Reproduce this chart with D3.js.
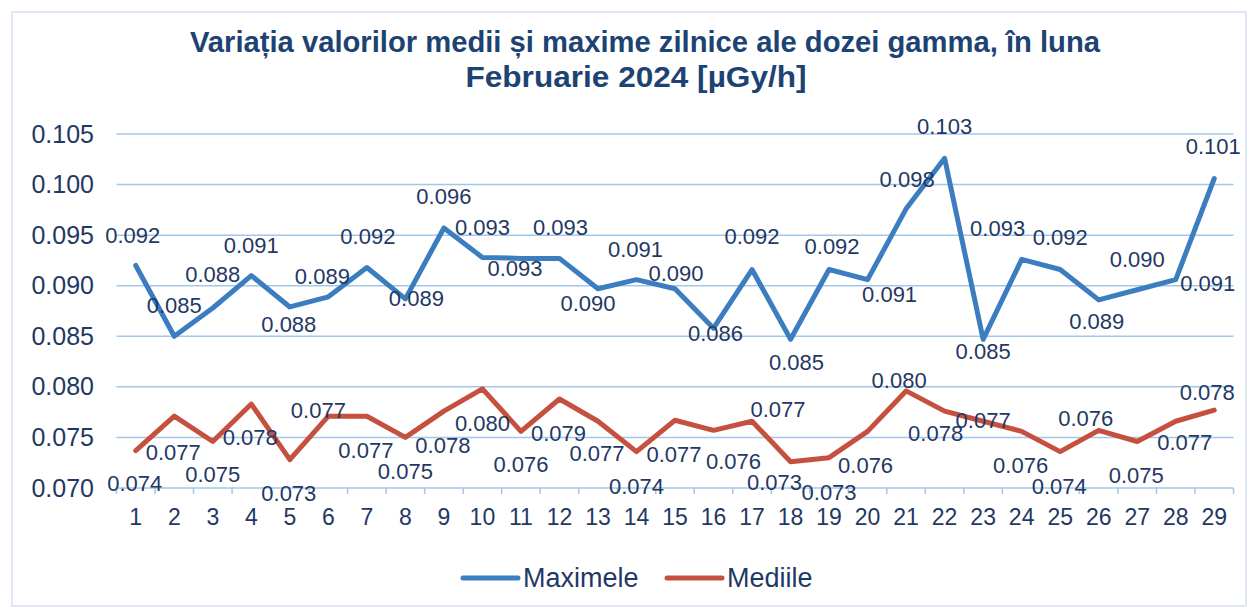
<!DOCTYPE html>
<html>
<head>
<meta charset="utf-8">
<script src="https://cdn.jsdelivr.net/npm/d3@7/dist/d3.min.js"></script>
<style>
  body { margin: 0; background: #fff; }
  text { font-family: "Liberation Sans", Arial, sans-serif; fill: #1f3864; }
</style>
</head>
<body>
<div id="canvas"></div>
<script>
// chart data
var days = d3.range(1, 30).map(String);
var maximele = [0.0920, 0.0850, 0.0878, 0.0910, 0.0879, 0.0889, 0.0918, 0.0887, 0.0957, 0.0928,
                0.0927, 0.0927, 0.0897, 0.0906, 0.0897, 0.0858, 0.0916, 0.0847, 0.0916, 0.0906,
                0.0976, 0.1026, 0.0847, 0.0926, 0.0916, 0.0886, 0.0896, 0.0906, 0.1006];
var mediile = [0.0737, 0.0771, 0.0746, 0.0783, 0.0728, 0.0771, 0.0771, 0.0750, 0.0776, 0.0798,
               0.0756, 0.0788, 0.0766, 0.0736, 0.0767, 0.0757, 0.0766, 0.0726, 0.0730, 0.0756,
               0.0796, 0.0776, 0.0766, 0.0756, 0.0736, 0.0757, 0.0746, 0.0766, 0.0777];
var yTicks = [0.070, 0.075, 0.080, 0.085, 0.090, 0.095, 0.100, 0.105];
var seriesNames = ['Maximele', 'Mediile'];
var titleLines = ['Variația valorilor medii și maxime zilnice ale dozei gamma, în luna',
                  'Februarie 2024 [µGy/h]'];

// label nudges (dx, dy from the point), as placed in the original
var maxLabelOffset = [[-3,-30],[0,-31],[0,-34],[0,-31],[-1,17],[-6,-21],[1,-31],[11,-1],[0,-32],[0,-30],
                      [-6,10],[1,-31],[-10,14],[-1,-31],[1,-16],[2,5],[0,-33],[6,23],[3,-23],[22,14],
                      [1,-30],[0,-32],[0,12],[-24,-31],[0,-32],[-2,21],[0,-31],[32,3],[-1,-32]];
var medLabelOffset = [[-1,33],[-1,36],[0,33],[-1,33],[-1,33],[-10,-6],[-1,34],[0,34],[-1,34],[0,34],
                      [0,33],[-1,34],[-1,32],[0,34],[-1,34],[20,31],[26,-12],[-16,20],[0,34],[-2,34],
                      [-7,-11],[-9,22],[0,-1],[-1,34],[-1,34],[-13,-12],[-1,34],[9,21],[-7,-18]];

var W = 1252, H = 611;
var colors = ['#3b7dbf', '#c6503f'];
var gridColor = '#a3c7ea';

var svg = d3.select('#canvas').append('svg')
  .attr('width', W)
  .attr('height', H);

svg.append('rect')
  .attr('x', 12).attr('y', 12)
  .attr('width', 1234).attr('height', 594)
  .attr('fill', '#fff')
  .attr('stroke', '#d3e2f2')
  .attr('stroke-width', 1.5);

var x = d3.scaleBand().domain(days).range([116.5, 1233.5]).paddingInner(0).paddingOuter(0);
var y = d3.scaleLinear().domain([0.070, 0.105]).range([488, 134]);
var cx = function(d, i) { return x(days[i]) + x.bandwidth() / 2; };

// gridlines
svg.append('g').selectAll('line').data(yTicks).enter()
  .append('line')
  .attr('x1', 116.5).attr('x2', 1233.5)
  .attr('y1', function(d) { return y(d); })
  .attr('y2', function(d) { return y(d); })
  .attr('stroke', gridColor)
  .attr('stroke-width', 1.5);

// category boundary ticks on the bottom axis
var bounds = days.map(function(d) { return x(d); }).concat([x.range()[1]]);
svg.append('g').selectAll('line').data(bounds).enter()
  .append('line')
  .attr('x1', function(d) { return d; }).attr('x2', function(d) { return d; })
  .attr('y1', y(0.070)).attr('y2', y(0.070) + 6)
  .attr('stroke', gridColor)
  .attr('stroke-width', 1.5);

// y axis labels
var yAxis = svg.append('g')
  .attr('transform', 'translate(116,0)')
  .call(d3.axisLeft(y).tickValues(yTicks).tickFormat(d3.format('.3f')).tickSize(0).tickPadding(22));
yAxis.select('.domain').remove();
yAxis.selectAll('text').attr('font-size', 25).attr('font-family', null).attr('fill', '#1f3864');

// x axis labels
var xAxis = svg.append('g')
  .attr('transform', 'translate(0,' + y(0.070) + ')')
  .call(d3.axisBottom(x).tickSize(0).tickPadding(21));
xAxis.select('.domain').remove();
xAxis.selectAll('text').attr('font-size', 23).attr('font-family', null).attr('fill', '#1f3864');

// lines
var line = d3.line()
  .x(cx)
  .y(function(d) { return y(d); });

[maximele, mediile].forEach(function(vals, k) {
  svg.append('path')
    .datum(vals)
    .attr('d', line)
    .attr('fill', 'none')
    .attr('stroke', colors[k])
    .attr('stroke-width', 5)
    .attr('stroke-linejoin', 'round')
    .attr('stroke-linecap', 'round');
});

// data labels
var fmt = d3.format('.3f');
[[maximele, maxLabelOffset], [mediile, medLabelOffset]].forEach(function(s) {
  svg.append('g').selectAll('text').data(s[0]).enter()
    .append('text')
    .attr('x', function(d, i) { return cx(d, i) + s[1][i][0]; })
    .attr('y', function(d, i) { return y(d) + s[1][i][1]; })
    .attr('dy', '0.36em')
    .attr('text-anchor', 'middle')
    .attr('font-size', 22)
    .text(function(d) { return fmt(d); });
});

// title
svg.append('g').selectAll('text').data(titleLines).enter()
  .append('text')
  .attr('x', function(d, i) { return i === 0 ? 645 : 636; })
  .attr('y', function(d, i) { return 52 + i * 35; })
  .attr('text-anchor', 'middle')
  .attr('font-size', 29)
  .attr('font-weight', 'bold')
  .style('fill', '#1d4373')
  .attr('textLength', function(d, i) { return i === 0 ? 910 : 341; })
  .attr('lengthAdjust', 'spacingAndGlyphs')
  .text(function(d) { return d; });

// legend
var legendX = [463, 667];
var legend = svg.append('g').selectAll('g').data(seriesNames).enter()
  .append('g')
  .attr('transform', function(d, i) { return 'translate(' + legendX[i] + ',578)'; });
legend.append('line')
  .attr('x1', 0).attr('x2', 55)
  .attr('stroke', function(d, i) { return colors[i]; })
  .attr('stroke-width', 5)
  .attr('stroke-linecap', 'round');
legend.append('text')
  .attr('x', 60)
  .attr('dy', '0.35em')
  .attr('font-size', 27)
  .text(function(d) { return d; });
</script>
</body>
</html>
